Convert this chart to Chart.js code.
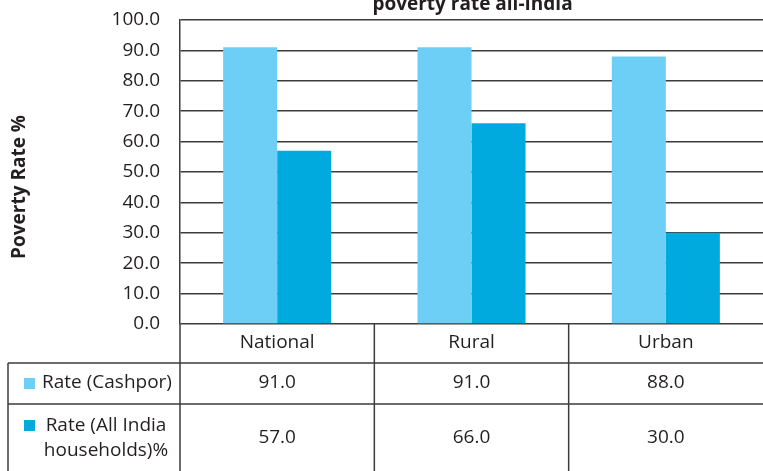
<!DOCTYPE html>
<html>
<head>
<meta charset="utf-8">
<script src="https://cdn.jsdelivr.net/npm/chart.js@4.4.1/dist/chart.umd.min.js"></script>
<style>
    body { margin: 0; background: #fff; }
    #wrap { width: 763px; height: 471px; position: relative; }
</style>
</head>
<body>
<div id="wrap"><canvas id="barChart"></canvas></div>
<script>
const categories = ['National', 'Rural', 'Urban'];
const cashporRate = [91.0, 91.0, 88.0];
const allIndiaRate = [57.0, 66.0, 30.0];
const seriesNames = ['Rate (Cashpor)', ['Rate (All India', 'households)%']];
const seriesColors = ['#6dcff6', '#00aadf'];

const lineColor = '#3c3c3c';
const textColor = '#231f20';

// title, axis title and the data table underneath
const tablePlugin = {
    id: 'tablePlugin',
    afterDraw(chart) {
        const ctx = chart.ctx;
        const area = chart.chartArea;
        const x = chart.scales.x;
        const W = chart.width, H = chart.height;
        const rowTop1 = area.bottom + 39;
        const rowTop2 = area.bottom + 80;

        ctx.save();
        ctx.strokeStyle = lineColor;
        ctx.lineWidth = 1.5;
        ctx.beginPath();
        // left axis line continues down through table
        ctx.moveTo(area.left, area.bottom);
        ctx.lineTo(area.left, H);
        for (let i = 0; i < categories.length - 1; i++) {
            const bx = (x.getPixelForValue(i) + x.getPixelForValue(i + 1)) / 2;
            ctx.moveTo(bx, area.bottom);
            ctx.lineTo(bx, H);
        }
        ctx.moveTo(8, rowTop1);
        ctx.lineTo(W, rowTop1);
        ctx.moveTo(8, rowTop2);
        ctx.lineTo(W, rowTop2);
        ctx.moveTo(8, rowTop1);
        ctx.lineTo(8, H);
        ctx.stroke();

        ctx.fillStyle = textColor;
        ctx.font = '19px "Open Sans"';
        ctx.textAlign = 'center';
        ctx.textBaseline = 'middle';
        categories.forEach((c, i) => {
            const cx = x.getPixelForValue(i);
            ctx.fillText(c, cx, area.bottom + 19);
            ctx.fillText(cashporRate[i].toFixed(1), cx, rowTop1 + 20);
            ctx.fillText(allIndiaRate[i].toFixed(1), cx, rowTop2 + 34);
        });

        // legend keys in the row headers
        ctx.fillStyle = seriesColors[0];
        ctx.fillRect(24, rowTop1 + 15, 11, 11);
        ctx.fillStyle = seriesColors[1];
        ctx.fillRect(24, rowTop2 + 16, 11, 11);
        ctx.fillStyle = textColor;
        ctx.fillText(seriesNames[0], 107, rowTop1 + 20);
        ctx.fillText(seriesNames[1][0], 106, rowTop2 + 22);
        ctx.fillText(seriesNames[1][1], 106, rowTop2 + 47);

        // chart title, partly cut by the top edge
        ctx.font = 'bold 19px "Open Sans"';
        ctx.textBaseline = 'alphabetic';
        ctx.fillText('poverty rate all-India', (area.left + area.right) / 2 + 1, 10);

        // y axis title
        ctx.translate(20, 187);
        ctx.rotate(-Math.PI / 2);
        ctx.textBaseline = 'middle';
        ctx.font = 'bold 19px "Open Sans"';
        ctx.fillText('Poverty Rate %', 0, 0);
        ctx.restore();
    }
};

Chart.defaults.font.family = '"Open Sans", sans-serif';
Chart.defaults.color = textColor;

const ctx = document.getElementById('barChart').getContext('2d');
new Chart(ctx, {
    type: 'bar',
    data: {
        labels: categories,
        datasets: [
            {
                label: 'Rate (Cashpor)',
                data: cashporRate,
                backgroundColor: seriesColors[0],
                barPercentage: 1,
                categoryPercentage: 0.556
            },
            {
                label: 'Rate (All India households)%',
                data: allIndiaRate,
                backgroundColor: seriesColors[1],
                barPercentage: 1,
                categoryPercentage: 0.556
            }
        ]
    },
    options: {
        responsive: true,
        maintainAspectRatio: false,
        animation: false,
        layout: {
            padding: { top: 20, bottom: 147, left: 0, right: 0 }
        },
        scales: {
            x: {
                display: false
            },
            y: {
                min: 0,
                max: 100,
                afterFit: function(scale) {
                    scale.width = 180;
                },
                ticks: {
                    stepSize: 10,
                    padding: 0,
                    font: { size: 19 },
                    color: textColor,
                    callback: v => v.toFixed(1)
                },
                grid: {
                    color: lineColor,
                    lineWidth: 1.5,
                    tickLength: 20,
                    tickColor: 'rgba(0,0,0,0)'
                },
                border: {
                    color: lineColor,
                    width: 1.5
                }
            }
        },
        plugins: {
            legend: { display: false },
            tooltip: { enabled: false }
        }
    },
    plugins: [tablePlugin]
});
</script>
</body>
</html>
